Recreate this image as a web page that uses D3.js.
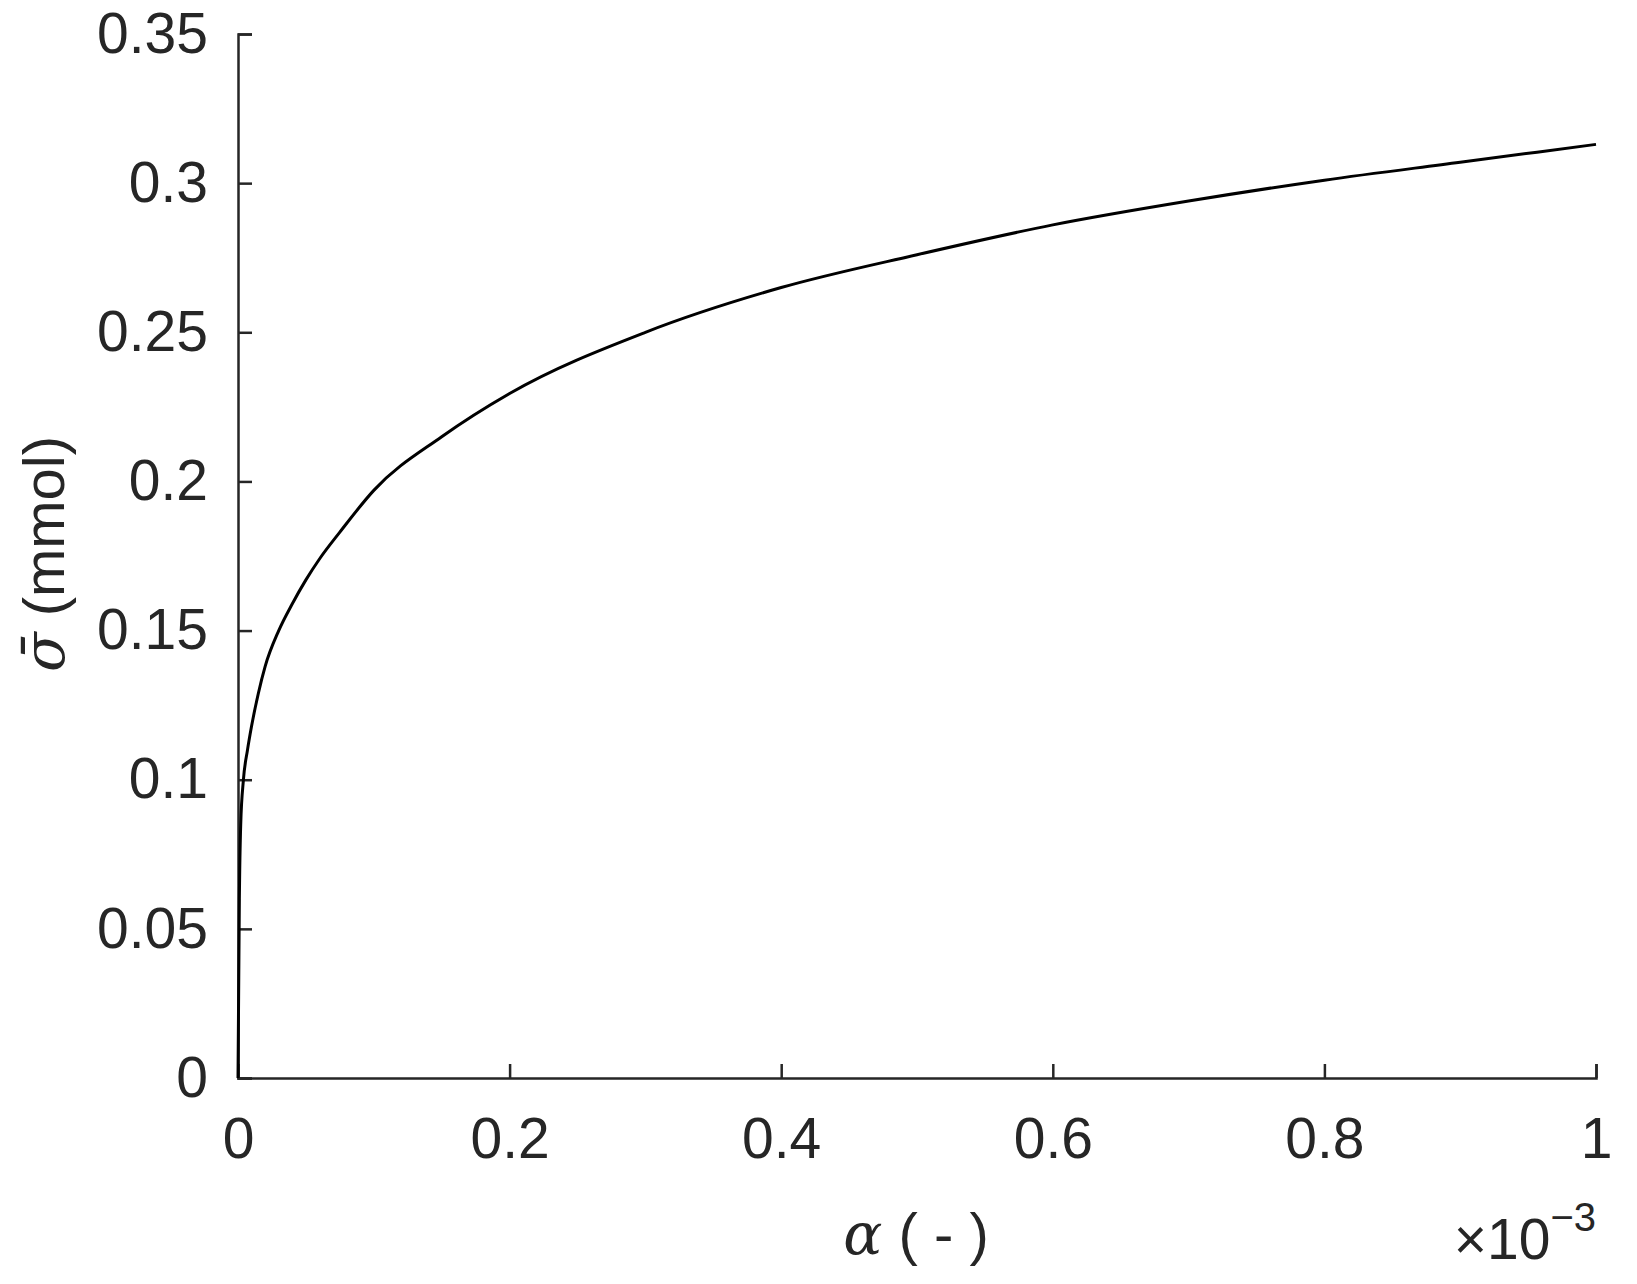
<!DOCTYPE html>
<html><head><meta charset="utf-8">
<script src="https://cdn.jsdelivr.net/npm/d3@7"></script>
<style>body{margin:0;background:#fff}text{font-family:"Liberation Sans",Arial,sans-serif;fill:#262626}</style>
</head><body><svg id="c" width="1637" height="1284"></svg>
<script>
// alpha values (x1e-3) and sigma-bar (mmol)
const alphaVals = [0, 0.001, 0.002, 0.004, 0.007, 0.01, 0.015, 0.02, 0.03, 0.04, 0.05, 0.06, 0.075, 0.1, 0.15, 0.2, 0.3, 0.4, 0.5, 0.6, 0.7, 0.8, 0.9, 1.0]
const sigmaVals = [0, 0.06, 0.085, 0.1, 0.11, 0.118, 0.129, 0.138, 0.15, 0.159, 0.167, 0.174, 0.183, 0.197, 0.215, 0.2295, 0.25, 0.265, 0.276, 0.286, 0.294, 0.301, 0.307, 0.313]
const xTicks = [0, 0.2, 0.4, 0.6, 0.8, 1]
const yTicks = [0, 0.05, 0.1, 0.15, 0.2, 0.25, 0.3, 0.35]

const svg = d3.select('#c')
const x = d3.scaleLinear().domain([0, 1]).range([238, 1596])
const y = d3.scaleLinear().domain([0, 0.35]).range([1078, 34])

const xAxis = svg.append('g').attr('transform', 'translate(0,1078)')
    .call(d3.axisBottom(x).tickValues(xTicks).tickSize(-14).tickPadding(40).tickFormat(d3.format('')))
const yAxis = svg.append('g').attr('transform', 'translate(238,0)')
    .call(d3.axisLeft(y).tickValues(yTicks).tickSize(-14).tickPadding(30).tickFormat(d3.format('')))
for (const a of [xAxis, yAxis]) {
    a.select('.domain').attr('stroke', '#262626').attr('stroke-width', 2.5)
    a.selectAll('.tick line').attr('stroke', '#262626').attr('stroke-width', 2.5)
    a.selectAll('.tick text').attr('font-size', 57).attr('fill', '#262626')
}
xAxis.selectAll('.tick text').attr('dy', '0.71em')

svg.append('path').datum(alphaVals.map((a, i) => [a, sigmaVals[i]]))
    .attr('fill', 'none').attr('stroke', '#000').attr('stroke-width', 3)
    .attr('d', d3.line().x(d => x(d[0])).y(d => y(d[1])).curve(d3.curveMonotoneX))

svg.append('text').attr('x', 916).attr('y', 1254).attr('text-anchor', 'middle').attr('font-size', 58)
    .html('<tspan font-family="DejaVu Serif" font-style="italic">α</tspan> ( - )')
svg.append('text').attr('x', 1596).attr('y', 1259).attr('text-anchor', 'end').attr('font-size', 57)
    .html('×10<tspan font-size="40" dy="-28">−3</tspan>')
svg.append('text').attr('transform', 'translate(64,554) rotate(-90)').attr('text-anchor', 'middle').attr('font-size', 58)
    .html('<tspan font-family="DejaVu Serif" font-style="italic">σ̄</tspan> (mmol)')
</script></body></html>
